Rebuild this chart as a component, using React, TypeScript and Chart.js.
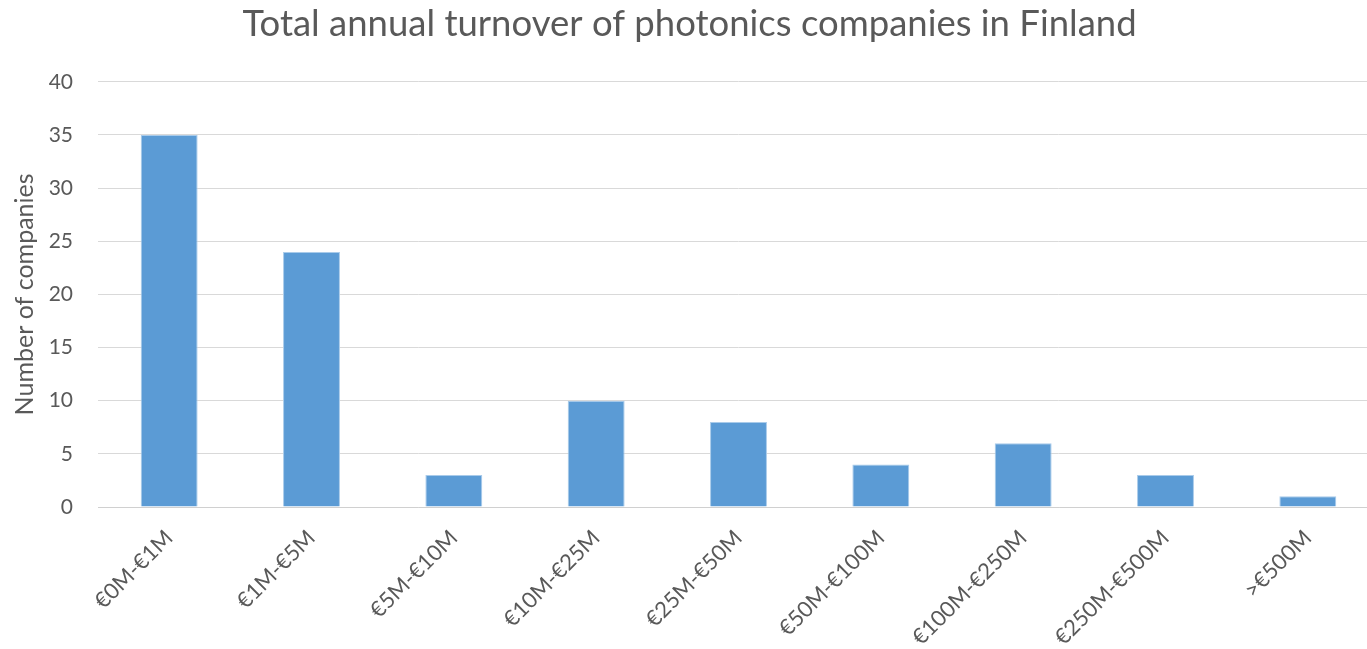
import React, { useEffect, useRef } from "react";
import { Chart, registerables } from "chart.js";

Chart.register(...registerables);

const categories = [
  "€0M-€1M",
  "€1M-€5M",
  "€5M-€10M",
  "€10M-€25M",
  "€25M-€50M",
  "€50M-€100M",
  "€100M-€250M",
  "€250M-€500M",
  ">€500M",
];
const companies = [35, 24, 3, 10, 8, 4, 6, 3, 1];
const yTicks = { min: 0, max: 40, step: 5 };
const titleText = "Total annual turnover of photonics companies in Finland";
const yTitle = "Number of companies";

const FONT = "Lato, 'Open Sans', sans-serif";
const TEXT = "#595959";

export default function App() {
  const ref = useRef<HTMLCanvasElement | null>(null);
  useEffect(() => {
    document.body.style.margin = "0";
    const chart = new Chart(ref.current!, {
      type: "bar",
      data: {
        labels: categories,
        datasets: [
          {
            data: companies,
            backgroundColor: "#5B9BD5",
            borderColor: "#A9CBEA",
            borderWidth: 1,
            barPercentage: 0.4,
            categoryPercentage: 1,
          },
        ],
      },
      options: {
        animation: false,
        responsive: false,
        maintainAspectRatio: false,
        layout: { padding: 0 },
        plugins: {
          legend: { display: false },
          tooltip: { enabled: false },
          title: {
            display: true,
            text: titleText,
            color: TEXT,
            font: { family: FONT, size: 36.5, weight: "normal" },
            padding: { top: 2, bottom: 36 },
          },
        },
        scales: {
          x: {
            grid: { display: false, drawTicks: false },
            border: { display: true, color: "#D0D0D0", width: 1 },
            ticks: {
              color: TEXT,
              font: { family: FONT, size: 22 },
              minRotation: 45,
              maxRotation: 45,
              padding: 18,
              autoSkip: false,
            },
            afterFit: (s: any) => {
              s.height = 142;
            },
          },
          y: {
            min: yTicks.min,
            max: yTicks.max,
            grid: { color: "#D9D9D9", drawTicks: false, lineWidth: 1 },
            border: { display: false },
            ticks: {
              stepSize: yTicks.step,
              color: TEXT,
              font: { family: FONT, size: 21 },
              padding: 25,
            },
            title: {
              display: true,
              text: yTitle,
              color: TEXT,
              font: { family: FONT, size: 25, weight: "normal" },
              padding: { top: 10, bottom: 0 },
            },
            afterFit: (s: any) => {
              s.width = 98;
            },
          },
        },
      },
    });
    return () => chart.destroy();
  }, []);
  return (
    <div
      style={{
        position: "absolute",
        left: 0,
        top: 0,
        width: 1367,
        height: 649,
        overflow: "hidden",
        background: "#fff",
      }}
    >
      <canvas ref={ref} width={1379} height={649} style={{ display: "block" }} />
    </div>
  );
}
